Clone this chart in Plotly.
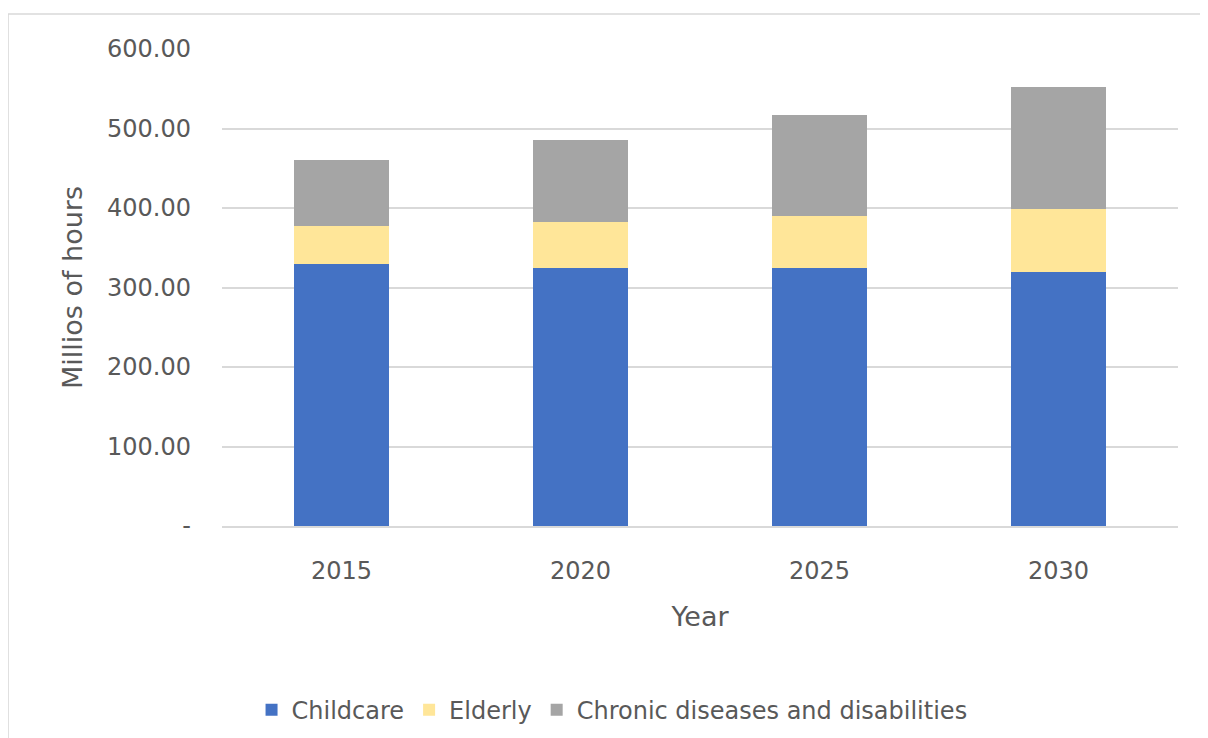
import plotly.graph_objects as go

years = ["2015", "2020", "2025", "2030"]
childcare = [329, 324, 324, 320]
elderly = [48, 58, 66, 79]
chronic = [83, 104, 127, 153]

y_tickvals = [0, 100, 200, 300, 400, 500, 600]
y_ticktext = ["-", "100.00", "200.00", "300.00", "400.00", "500.00", "600.00"]

FONT = "DejaVu Sans"
GRAY_TXT = "#595959"

fig = go.Figure()
fig.add_trace(go.Bar(x=years, y=childcare, name="Childcare", marker_color="#4472C4", marker_line_width=0))
fig.add_trace(go.Bar(x=years, y=elderly, name="Elderly", marker_color="#FFE699", marker_line_width=0))
fig.add_trace(go.Bar(x=years, y=chronic, name="Chronic diseases and disabilities", marker_color="#A5A5A5", marker_line_width=0))

fig.update_layout(
    width=1208, height=738,
    barmode="stack", bargap=0.6,
    paper_bgcolor="white", plot_bgcolor="white",
    margin=dict(l=214, r=38, t=41, b=220, autoexpand=False),
    font=dict(family=FONT, size=24, color=GRAY_TXT),
    showlegend=True,
    legend=dict(orientation="h", x=0.408, xanchor="center", y=-0.386, yanchor="middle",
                font=dict(size=24, color=GRAY_TXT), itemwidth=30, traceorder="normal",
                bgcolor="rgba(0,0,0,0)"),
    shapes=[dict(type="rect", xref="paper", yref="paper", x0=-0.2238, x1=1.2, y0=-1.0, y1=1.0734,
                 line=dict(color="#d9d9d9", width=1.5), fillcolor="rgba(0,0,0,0)", layer="below")],
)

fig.update_xaxes(
    showgrid=False, showline=True, linecolor="#d9d9d9", linewidth=1.5,
    ticks="", ticklabelstandoff=22,
    tickfont=dict(size=24, color=GRAY_TXT),
    title=dict(text="Year", font=dict(size=27, color=GRAY_TXT), standoff=24),
)
fig.update_yaxes(
    range=[0, 600], tickvals=y_tickvals, ticktext=y_ticktext,
    showgrid=True, gridcolor="#d9d9d9", gridwidth=1.5, zeroline=False, showline=False,
    ticks="", ticklabelstandoff=30,
    tickfont=dict(size=24, color=GRAY_TXT),
    title=dict(text="Millios of hours", font=dict(size=27, color=GRAY_TXT), standoff=16),
)

fig.write_html("out.html")
